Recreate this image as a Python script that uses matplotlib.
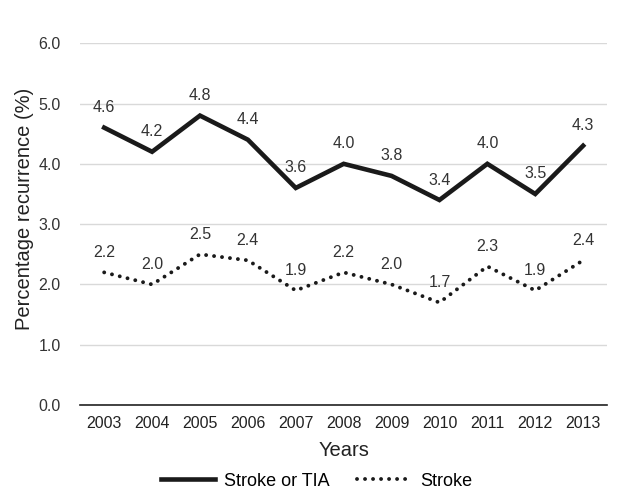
import matplotlib
matplotlib.use("Agg")
import matplotlib.pyplot as plt

plt.rcParams['font.family'] = ['Liberation Sans', 'DejaVu Sans']

years = ['2003', '2004', '2005', '2006', '2007', '2008', '2009', '2010', '2011', '2012', '2013']
stroke_tia = [4.6, 4.2, 4.8, 4.4, 3.6, 4.0, 3.8, 3.4, 4.0, 3.5, 4.3]
stroke = [2.2, 2.0, 2.5, 2.4, 1.9, 2.2, 2.0, 1.7, 2.3, 1.9, 2.4]

fig = plt.figure(figsize=(6.22, 4.91), dpi=100)
ax = fig.add_axes([0.129, 0.175, 0.847, 0.737])

x = list(range(len(years)))
ax.plot(x, stroke_tia, color='#1a1a1a', lw=3.3, solid_joinstyle='miter', label='Stroke or TIA')
ax.plot(x, stroke, color='#1a1a1a', lw=2.8, linestyle=(0, (0.01, 2.05)),
        dash_capstyle='round', label='Stroke')

# data labels
for xi, v in zip(x, stroke_tia):
    ax.annotate(f'{v:.1f}', (xi, v), xytext=(0, 9), textcoords='offset points',
                ha='center', va='bottom', fontsize=11.5, color='#333333')
for xi, v in zip(x, stroke):
    ax.annotate(f'{v:.1f}', (xi, v), xytext=(0, 9), textcoords='offset points',
                ha='center', va='bottom', fontsize=11.5, color='#333333')

ax.set_xlim(-0.5, len(years) - 0.5)
ax.set_ylim(0, 6)
ax.set_yticks([0, 1, 2, 3, 4, 5, 6])
ax.set_yticklabels([f'{t:.1f}' for t in range(7)], fontsize=11.5, color='#333333')
ax.set_xticks(x)
ax.set_xticklabels(years, fontsize=11.5, color='#222222')
ax.tick_params(length=0, pad=8)
ax.tick_params(axis='y', pad=14)
ax.grid(axis='y', color='#d9d9d9', lw=1)
ax.set_axisbelow(True)
for s in ['top', 'right', 'left']:
    ax.spines[s].set_visible(False)
ax.spines['bottom'].set_color('#222222')
ax.spines['bottom'].set_linewidth(1.2)

ax.set_xlabel('Years', fontsize=14.5, color='#222222', labelpad=7)
ax.set_ylabel('Percentage recurrence (%)', fontsize=14.5, color='#222222', va='center')
ax.yaxis.set_label_coords(-0.106, 0.541)

fig.legend(loc='center', bbox_to_anchor=(0.509, 0.02), ncol=2, frameon=False,
           fontsize=13, handlelength=3.0, columnspacing=1.5, handletextpad=0.5)

fig.savefig('out.png', dpi=100)
